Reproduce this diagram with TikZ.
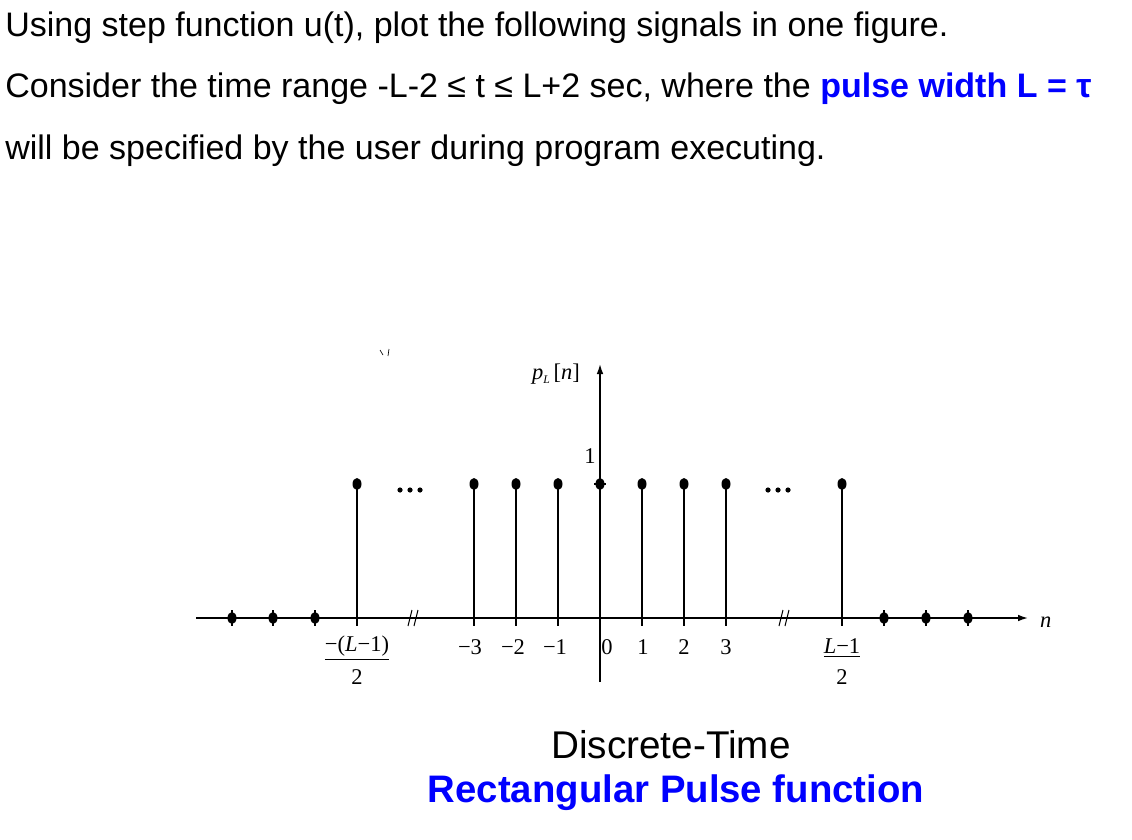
\documentclass[tikz,border=0pt]{standalone}
\usepackage{fontspec}
\setmainfont{Liberation Sans}
\newfontfamily\tms{Liberation Serif}
\usetikzlibrary{arrows.meta}
\definecolor{myblue}{RGB}{0,0,255}
\begin{document}
\begin{tikzpicture}[x=0.6pt,y=-0.6pt,
  hdr/.style={anchor=base west,inner sep=0,font=\fontsize{20.4}{24}\selectfont},
  lbl/.style={inner sep=1pt,font=\tms\fontsize{13.5}{15}\selectfont},
  stem/.style={line width=1.3pt},
  ax/.style={line width=0.9pt}]
\useasboundingbox (0,0) rectangle (1132,840);
\node[hdr] (h1) at (5,37) {Using step function u(t), plot the following signals in one figure.};
\node[hdr] (h2) at (5,98) {Consider the time range -L-2 ≤ t ≤ L+2 sec, where the \textcolor{myblue}{\textbf{pulse width L = τ}}};
\node[hdr] (h3) at (5,160) {will be specified by the user during program executing.};
% axes
\coordinate (xs) at (196,618); \coordinate (xe) at (1028,618);
\draw[ax,-{Latex[length=6pt,width=4pt]}] (xs) -- (xe);
\coordinate (ys) at (600,682); \coordinate (ye) at (600,364);
\draw[ax,-{Latex[length=6pt,width=4pt]}] (ys) -- (ye);
\node[lbl,anchor=west] (nl) at (1038,622) {\textit{n}};
\node[lbl] (yl) at (556,374) {\textit{p}\raisebox{-0.4ex}{\scriptsize\textit{L}}\,[\textit{n}]};
\node[lbl] (one) at (590,456) {1};
% zero samples
\foreach \x in {232,273,315,884,926,968}{
  \fill (\x,618) ellipse (4.5 and 6);
  \draw[line width=0.8pt] (\x,610) -- (\x,626);}
% unit samples
\foreach \x in {357,474,516,558,600,642,684,726,842}{
  \draw[stem] (\x,618) -- (\x,484);
  \fill (\x,484) ellipse (4.5 and 6);
  \draw[line width=0.8pt] (\x,618) -- (\x,626);}
\draw[line width=0.8pt] (594,484) -- (606,484);
% dots
\foreach \x in {400,410,420, 768,778,788} \fill (\x,490) circle (2.6);
% break marks
\foreach \x in {413,784}{
  \draw[line width=0.6pt] (\x-5,626) -- (\x-1,610);
  \draw[line width=0.6pt] (\x+1,626) -- (\x+5,610);}
% tick labels
\node[lbl] (lm) at (357,648) {\underline{−(\textit{L}−1)}};
\node[lbl] (lm2) at (357,677) {2};
\node[lbl] (t3) at (470,647) {−3};
\node[lbl] (t2) at (513,647) {−2};
\node[lbl] (t1) at (555,647) {−1};
\node[lbl] (t0) at (607,647) {0};
\node[lbl] (p1) at (643,647) {1};
\node[lbl] (p2) at (684,647) {2};
\node[lbl] (p3) at (726,647) {3};
\node[lbl] (lp) at (842,648) {\underline{\textit{L}−1}};
\node[lbl] (lp2) at (842,677) {2};
% small artifact
\draw[line width=0.4pt] (380,350) -- (383,355);
\draw[line width=0.4pt] (389,349) -- (388,356);
% captions
\node[inner sep=0,font=\fontsize{23.2}{26}\selectfont] (c1) at (671,745) {Discrete-Time};
\node[inner sep=0,font=\bfseries\fontsize{23}{26}\selectfont,text=myblue] (c2) at (676,793) {Rectangular Pulse function};
\end{tikzpicture}
\end{document}
